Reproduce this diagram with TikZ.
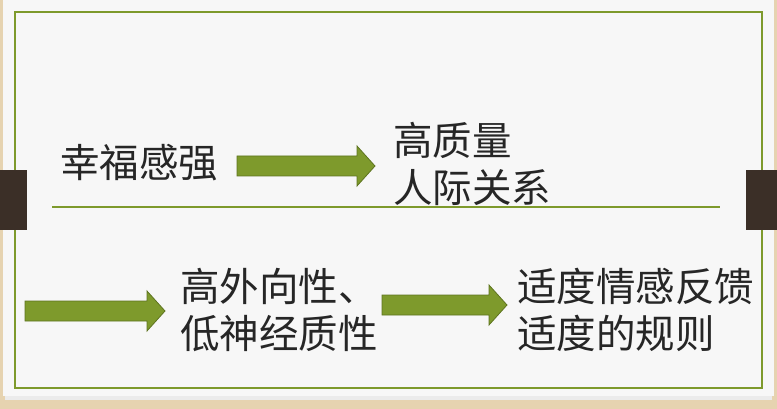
\documentclass[tikz,border=0pt]{standalone}
\usepackage{fontspec}
\newfontfamily\cjk{Noto Sans CJK SC}
\usetikzlibrary{shapes.arrows}
\definecolor{olive}{HTML}{7E9A2C}
\definecolor{olived}{HTML}{5E7420}
\definecolor{tab}{HTML}{3B2F27}
\definecolor{beige}{HTML}{E6D3B0}
\tikzset{
 txt/.style={font=\cjk\fontsize{39.5}{47}\selectfont, text=black!85, anchor=west, inner sep=0, align=left},
 barrow/.style={fill=olive, draw=olived, line width=0.8pt}
}
\newcommand{\blockarrow}[4]{% x1 x2 ymid name
 \fill[barrow] (#1,#3-10) -- (#2-18,#3-10) -- (#2-18,#3-20) -- (#2,#3) -- (#2-18,#3+20) -- (#2-18,#3+10) -- (#1,#3+10) -- cycle;
 \coordinate (#4) at (#2,#3);}
\begin{document}
\begin{tikzpicture}[x=1pt,y=-1pt]
\useasboundingbox (0,0) rectangle (777,409);
\fill[beige] (0,0) rectangle (777,409);
\fill[black!8] (5,3) rectangle (772,400);
\fill[white!97!black] (3,0) rectangle (774,396);
\draw[olive, line width=1.2pt] (15,12) rectangle (762,388);
\fill[tab] (0,170) rectangle (27,230);
\fill[tab] (746,170) rectangle (777,230);
\draw[olive, line width=1.2pt] (52,207) -- (720,207);
\node[txt] (a) at (60,163) {幸福感强};
\node[txt] (b) at (393,164) {高质量\\人际关系};
\node[txt] (c) at (180,310) {高外向性、\\低神经质性};
\node[txt] (d) at (517,310) {适度情感反馈\\适度的规则};
\blockarrow{237}{375}{166}{e1}
\blockarrow{25}{165}{311}{e2}
\blockarrow{382}{507}{305}{e3}
\end{tikzpicture}
\end{document}
